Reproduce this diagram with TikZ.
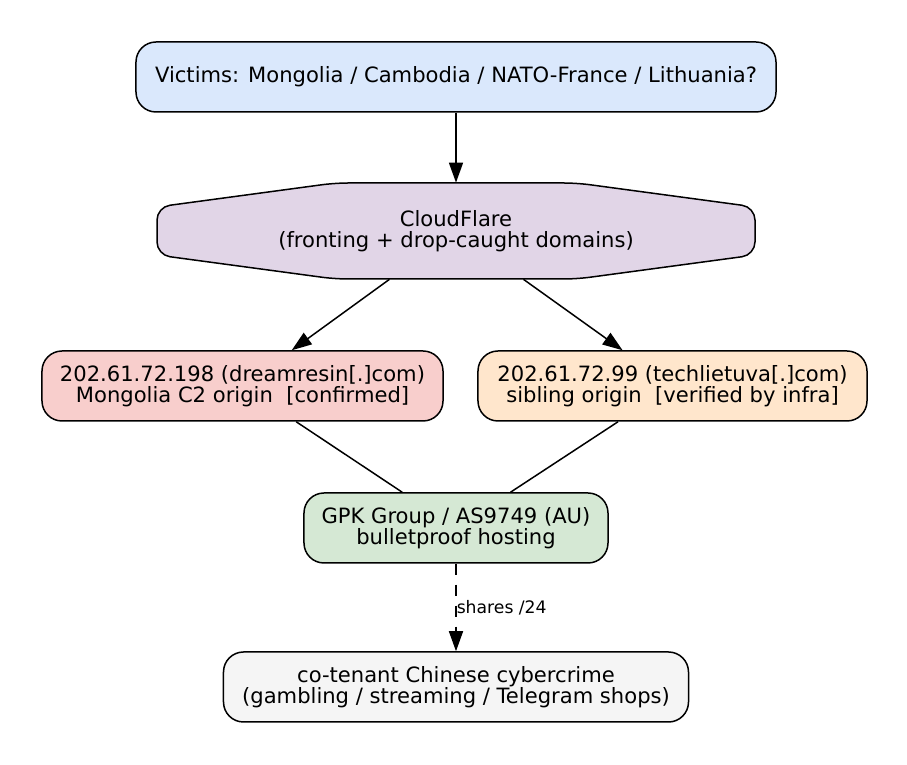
\documentclass[tikz,border=0pt]{standalone}
\usepackage{fontspec}
\setmainfont{DejaVu Sans}
\usetikzlibrary{arrows.meta}
\definecolor{victimblue}{HTML}{DAE8FC}
\definecolor{frontpurple}{HTML}{E1D5E7}
\definecolor{originpink}{HTML}{F8CECC}
\definecolor{siblingorange}{HTML}{FFE6CC}
\definecolor{bphgreen}{HTML}{D5E8D4}
\definecolor{tenantgrey}{HTML}{F5F5F5}
\begin{document}
\begin{tikzpicture}[x=0.2mm,y=-0.2mm,font=\fontsize{12}{12.2}\selectfont]
\tikzset{
  hostbox/.style={draw=black,line width=0.3mm,rounded corners=4mm,
    minimum height=14mm,inner sep=0pt,align=center},
  victimbox/.style={hostbox,fill=victimblue},
  originbox/.style={hostbox,fill=originpink},
  siblingbox/.style={hostbox,fill=siblingorange},
  bphbox/.style={hostbox,fill=bphgreen},
  tenantbox/.style={hostbox,fill=tenantgrey},
  flow/.style={-{Triangle[length=4mm,width=2.8mm]},line width=0.3mm},
  link/.style={line width=0.3mm}
}
\useasboundingbox (0,0) rectangle (907,765);

\node[victimbox,minimum width=128mm] (victims) at (456,77)
  {Victims: Mongolia / Cambodia / NATO-France / Lithuania?};

% fronting layer
\draw[line width=0.3mm,fill=frontpurple,rounded corners=2.6mm]
  (157,207) -- (335,183) -- (577,183) -- (755,207) -- (755,255)
  -- (577,279) -- (335,279) -- (157,255) -- cycle;
\node[minimum width=88mm,minimum height=19.2mm,inner sep=0pt,align=center]
  (cloudflare) at (456,231) {CloudFlare\\(fronting + drop-caught domains)};

% origins
\node[originbox,minimum width=80.2mm] (dreamresin) at (242.5,386)
  {202.61.72.198 (dreamresin[.]com)\\Mongolia C2 origin\ \ [confirmed]};
\node[siblingbox,minimum width=77.8mm] (techlietuva) at (672.5,386)
  {202.61.72.99 (techlietuva[.]com)\\sibling origin\ \ [verified by infra]};

\node[bphbox,minimum width=60.8mm] (gpk) at (456,528)
  {GPK Group / AS9749 (AU)\\bulletproof hosting};
\node[tenantbox,minimum width=93mm] (cotenant) at (456,687)
  {co-tenant Chinese cybercrime\\(gambling / streaming / Telegram shops)};

\draw[flow] (victims) -- (cloudflare);
\draw[flow] (cloudflare) -- (dreamresin);
\draw[flow] (cloudflare) -- (techlietuva);
\draw[link] (dreamresin) -- (gpk);
\draw[link] (techlietuva) -- (gpk);
\draw[flow,dash pattern=on 2.2mm off 2mm] (gpk) -- (cotenant)
  node[pos=0.5,anchor=west,inner sep=0pt,font=\fontsize{9.8}{9.8}\selectfont]
  {shares /24};
\end{tikzpicture}
\end{document}
